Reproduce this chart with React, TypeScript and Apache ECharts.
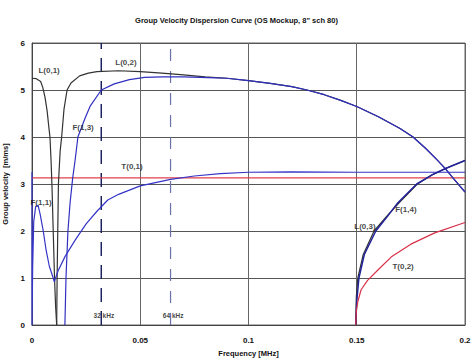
import React, { useEffect, useRef } from "react";
import * as echarts from "echarts";

const titleText = 'Group Velocity Dispersion Curve (OS Mockup, 8" sch 80)';
const xTicks = [0, 0.05, 0.1, 0.15, 0.2];
const yTicks = [0, 1, 2, 3, 4, 5, 6];

const L01: number[][] = [[0, 5.25], [0.002, 5.24], [0.004, 5.18], [0.005, 5.05], [0.006, 4.85], [0.007, 4.55], [0.0078, 4.2], [0.0083, 4.0], [0.0088, 3.5], [0.0092, 3.0], [0.0098, 2.0], [0.0104, 1.0], [0.0109, 0.4], [0.0114, 0]];
const L02: number[][] = [[0.0114, 0], [0.0116, 1.0], [0.0119, 2.0], [0.0122, 3.0], [0.013, 3.7], [0.0137, 4.0], [0.0148, 4.6], [0.0162, 5.0], [0.018, 5.15], [0.022, 5.3], [0.026, 5.36], [0.03, 5.39], [0.04, 5.41], [0.05, 5.39], [0.06, 5.36], [0.07, 5.32], [0.08, 5.28], [0.09, 5.25], [0.1, 5.2], [0.11, 5.14], [0.12, 5.07], [0.127, 5.0], [0.135, 4.9], [0.1426, 4.78], [0.15, 4.65], [0.16, 4.43], [0.17, 4.18], [0.176, 4.0], [0.182, 3.75], [0.187, 3.52], [0.191, 3.32], [0.195, 3.1], [0.2, 2.83]];
const F13: number[][] = [[0.0152, 0], [0.0157, 1.0], [0.0166, 2.0], [0.0176, 2.6], [0.0188, 3.13], [0.0199, 3.5], [0.0212, 4.0], [0.0245, 4.4], [0.0268, 4.65], [0.032, 5.0], [0.038, 5.13], [0.045, 5.22], [0.052, 5.27], [0.06, 5.28], [0.07, 5.28], [0.085, 5.26], [0.09, 5.25], [0.1, 5.2], [0.11, 5.14], [0.12, 5.07], [0.127, 5.0], [0.135, 4.9], [0.1426, 4.78], [0.15, 4.65], [0.16, 4.43], [0.17, 4.18], [0.176, 4.0], [0.182, 3.75], [0.187, 3.52], [0.191, 3.32], [0.195, 3.1], [0.2, 2.83]];
const F11: number[][] = [[0, 3.25], [0, 0], [0.0003, 1.2], [0.0008, 2.2], [0.0017, 2.52], [0.0028, 2.55], [0.0038, 2.35], [0.0052, 2.0], [0.0065, 1.6], [0.008, 1.25], [0.0098, 1.0], [0.0103, 0.92]];
const F12: number[][] = [[0.0103, 0.92], [0.012, 1.15], [0.0153, 1.46], [0.02, 1.81], [0.025, 2.15], [0.03, 2.42], [0.035, 2.66], [0.04, 2.78], [0.05, 2.96], [0.064, 3.1], [0.075, 3.17], [0.087, 3.22], [0.1, 3.25], [0.12, 3.26], [0.15, 3.25], [0.2, 3.25]];
const T01: number[][] = [[0, 3.13], [0.2, 3.13]];
const L03: number[][] = [[0.1495, 0], [0.1498, 0.6], [0.1505, 1.0], [0.153, 1.5], [0.158, 2.0], [0.164, 2.32], [0.17, 2.62], [0.178, 3.0], [0.185, 3.2], [0.191, 3.33], [0.2, 3.5]];
const F14: number[][] = [[0.1495, 0], [0.15, 0.5], [0.151, 1.0], [0.1535, 1.5], [0.1588, 2.0], [0.164, 2.3], [0.169, 2.6], [0.1777, 3.0], [0.185, 3.2], [0.191, 3.33], [0.2, 3.5]];
const T02: number[][] = [[0.1495, 0], [0.1498, 0.3], [0.1505, 0.5], [0.152, 0.75], [0.155, 0.95], [0.16, 1.18], [0.166, 1.45], [0.175, 1.72], [0.186, 1.96], [0.2, 2.18]];

const markerFreqs = [0.032, 0.064];
const markerTexts = ["32 kHz", "64 kHz"];

const labelNames = ["L(0,1)", "L(0,2)", "F(1,3)", "T(0,1)", "F(1,1)", "L(0,3)", "F(1,4)", "T(0,2)"];
const labelX = [0.0079, 0.0434, 0.0236, 0.0462, 0.0042, 0.1538, 0.1727, 0.1714];
const labelY = [5.42, 5.59, 4.2, 3.37, 2.6, 2.09, 2.45, 1.24];

const FONT = "Liberation Sans, Arial, sans-serif";

export default function App() {
  const ref = useRef<HTMLDivElement>(null);
  useEffect(() => {
    const chart = echarts.init(ref.current!, null, { renderer: "svg" });
    const line = (name: string, data: number[][], color: string, width = 1.2) => ({
      type: "line",
      name,
      data,
      symbol: "none",
      lineStyle: { color, width },
      silent: true,
      z: 3,
    });
    const option: any = {
      animation: false,
      backgroundColor: "#ffffff",
      title: {
        text: titleText,
        left: "center",
        top: 11,
        textStyle: { fontSize: 7.5, fontWeight: "bold", fontFamily: FONT, color: "#111" },
      },
      grid: {
        left: 32, right: 8, top: 43, bottom: 36, show: true, borderColor: "#666", borderWidth: 1,
        containLabel: false, outerBoundsMode: "none",
      },
      xAxis: {
        type: "value",
        min: xTicks[0],
        max: xTicks[xTicks.length - 1],
        interval: 0.05,
        name: "Frequency [MHz]",
        nameLocation: "middle",
        nameGap: 24,
        nameTextStyle: { fontSize: 7.5, fontWeight: "bold", fontFamily: FONT, color: "#111" },
        axisLine: { show: true, lineStyle: { color: "#444" } },
        axisTick: { show: false },
        axisLabel: { fontSize: 8, fontWeight: "bold", fontFamily: FONT, color: "#111", margin: 11 },
        splitLine: { show: true, lineStyle: { color: "#666", width: 1 } },
      },
      yAxis: {
        type: "value",
        min: yTicks[0],
        max: yTicks[yTicks.length - 1],
        interval: 1,
        name: "Group velocity  [m/ms]",
        nameLocation: "middle",
        nameGap: 11,
        nameTextStyle: { fontSize: 7.5, fontWeight: "bold", fontFamily: FONT, color: "#111" },
        axisLine: { show: true, lineStyle: { color: "#444" } },
        axisTick: { show: false },
        axisLabel: { fontSize: 8, fontWeight: "bold", fontFamily: FONT, color: "#111", margin: 7 },
        splitLine: { show: true, lineStyle: { color: "#555", width: 1 } },
      },
      series: [
        line("T(0,1)", T01, "#e0404c"),
        line("L(0,1)", L01, "#333333"),
        line("L(0,2)", L02, "#333333"),
        line("L(0,3)", L03, "#333333"),
        line("F(1,2)", F12, "#3535c8"),
        line("F(1,1)", F11, "#3535c8"),
        line("F(1,3)", F13, "#3030c0"),
        line("F(1,4)", F14, "#22229a", 1.5),
        line("T(0,2)", T02, "#d83048"),
        {
          type: "line",
          name: "m1",
          data: [[markerFreqs[0], 0], [markerFreqs[0], 6]],
          symbol: "none",
          lineStyle: { color: "#1c2260", width: 1.5, type: [14, 9] },
          z: 2,
        },
        {
          type: "line",
          name: "m2",
          data: [[markerFreqs[1], 0], [markerFreqs[1], 6]],
          symbol: "none",
          lineStyle: { color: "#6a70a8", width: 1.2, type: [12, 10] },
          z: 2,
        },
        {
          type: "scatter",
          data: markerFreqs.map((f, i) => ({ value: [f + 0.0012, 0.21], name: markerTexts[i] })),
          symbolSize: 0,
          z: 5,
          label: {
            show: true,
            position: "inside",
            formatter: (p: any) => p.name,
            fontSize: 6.5,
            fontWeight: "bold",
            fontFamily: FONT,
            color: "#111",
          },
        },
        {
          type: "scatter",
          data: labelNames.map((n, i) => ({ value: [labelX[i], labelY[i]], name: n })),
          symbolSize: 0,
          z: 6,
          label: {
            show: true,
            position: "inside",
            formatter: (p: any) => p.name,
            fontSize: 8,
            fontWeight: "bold",
            fontFamily: FONT,
            color: "#111",
          },
        },
      ],
    };
    chart.setOption(option);
    return () => chart.dispose();
  }, []);
  return <div ref={ref} style={{ position: "absolute", left: 0, top: 0, width: 473, height: 361 }} />;
}
